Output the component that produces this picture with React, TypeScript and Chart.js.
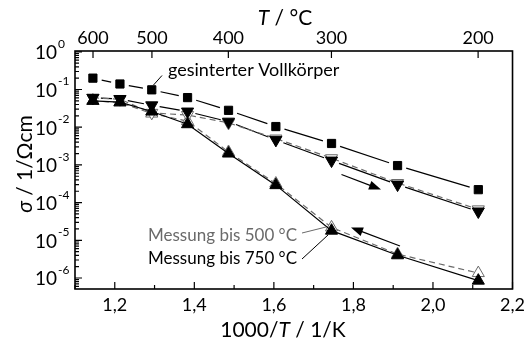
import { useEffect, useRef } from 'react';
import { Chart, registerables } from 'chart.js';

Chart.register(...registerables);

// ---- data ----
const tempsC = [600, 550, 500, 450, 400, 350, 300, 250, 200];
const invT = [1.145, 1.213, 1.293, 1.383, 1.486, 1.605, 1.745, 1.911, 2.114];
const sinterBody = [0.2, 0.14, 0.098, 0.061, 0.028, 0.0104, 0.0037, 9.6e-4, 2.2e-4];
const to750Down = [0.06, 0.056, 0.038, 0.026, 0.014, 0.0046, 0.0013, 3.0e-4, 5.8e-5];
const to500Down = [0.06, 0.055, 0.024, 0.021, 0.013, 0.005, 0.0015, 3.3e-4, 6.6e-5];
const to750Up = [0.05, 0.046, 0.026, 0.012, 0.002, 2.9e-4, 1.8e-5, 4.0e-6, 8.5e-7];
const to500Up = [0.05, 0.045, 0.023, 0.0145, 0.0022, 3.2e-4, 2.2e-5, 4.3e-6, 1.35e-6];

const xTicks = [1.2, 1.4, 1.6, 1.8, 2.0, 2.2];
const xMinorTicks = [1.1, 1.3, 1.5, 1.7, 1.9, 2.1];
const topTicksC = [600, 500, 400, 300, 200];
const yExponents = [0, -1, -2, -3, -4, -5, -6];

const FONT = 'Lato, "Open Sans", sans-serif';
const GREY = '#6a6a6a';

const pts = (ys: number[]) => ys.map((y, i) => ({ x: invT[i], y }));

function drawRich(ctx: CanvasRenderingContext2D, parts: [string, boolean][], size: number, x: number, y: number) {
  let total = 0;
  const widths = parts.map(([t, it]) => {
    ctx.font = `${it ? 'italic ' : ''}${size}px ${FONT}`;
    const w = ctx.measureText(t).width;
    total += w;
    return w;
  });
  let cx = x - total / 2;
  ctx.textAlign = 'left';
  parts.forEach(([t, it], i) => {
    ctx.font = `${it ? 'italic ' : ''}${size}px ${FONT}`;
    ctx.fillText(t, cx, y);
    cx += widths[i];
  });
}

function drawArrow(ctx: CanvasRenderingContext2D, x1: number, y1: number, x2: number, y2: number) {
  const a = Math.atan2(y2 - y1, x2 - x1);
  const L = 12, W = 4.5;
  ctx.beginPath();
  ctx.moveTo(x1, y1);
  ctx.lineTo(x2 - Math.cos(a) * L * 0.8, y2 - Math.sin(a) * L * 0.8);
  ctx.stroke();
  ctx.beginPath();
  ctx.moveTo(x2, y2);
  ctx.lineTo(x2 - L * Math.cos(a) + W * Math.sin(a), y2 - L * Math.sin(a) - W * Math.cos(a));
  ctx.lineTo(x2 - L * Math.cos(a) - W * Math.sin(a), y2 - L * Math.sin(a) + W * Math.cos(a));
  ctx.closePath();
  ctx.fill();
}

const gapLinesPlugin = {
  id: 'gapLines',
  beforeDatasetsDraw(chart: any) {
    const ctx = chart.ctx as CanvasRenderingContext2D;
    chart.data.datasets.forEach((ds: any, i: number) => {
      if (!ds.gapPx) return;
      const meta = chart.getDatasetMeta(i);
      const p = meta.data;
      ctx.save();
      ctx.strokeStyle = ds.gapColor || '#000';
      ctx.lineWidth = 1.2;
      for (let k = 0; k < p.length - 1; k++) {
        const x1 = p[k].x, y1 = p[k].y, x2 = p[k + 1].x, y2 = p[k + 1].y;
        const d = Math.hypot(x2 - x1, y2 - y1);
        const g = ds.gapPx;
        if (d <= 2 * g) continue;
        const ux = (x2 - x1) / d, uy = (y2 - y1) / d;
        ctx.beginPath();
        ctx.moveTo(x1 + ux * g, y1 + uy * g);
        ctx.lineTo(x2 - ux * g, y2 - uy * g);
        ctx.stroke();
      }
      ctx.restore();
    });
  },
};

const decorPlugin = {
  id: 'decor',
  afterDraw(chart: any) {
    const ctx = chart.ctx as CanvasRenderingContext2D;
    const { left, right, top, bottom } = chart.chartArea;
    const xs = chart.scales.x;
    const ys = chart.scales.y;
    ctx.save();
    // frame
    ctx.strokeStyle = '#000';
    ctx.lineWidth = 1.6;
    ctx.strokeRect(left, top, right - left, bottom - top);
    // ticks
    ctx.lineWidth = 1.2;
    ctx.beginPath();
    xTicks.forEach((v) => {
      const px = xs.getPixelForValue(v);
      ctx.moveTo(px, bottom);
      ctx.lineTo(px, bottom - 7);
    });
    xMinorTicks.forEach((v) => {
      const px = xs.getPixelForValue(v);
      ctx.moveTo(px, bottom);
      ctx.lineTo(px, bottom - 4);
    });
    topTicksC.forEach((t) => {
      const px = xs.getPixelForValue(1000 / (t + 273.15));
      ctx.moveTo(px, top);
      ctx.lineTo(px, top + 7);
    });
    for (let e = -7; e <= 0; e++) {
      for (let m = 1; m <= 9; m++) {
        const v = m * Math.pow(10, e);
        if (v < ys.min || v > ys.max) continue;
        const py = ys.getPixelForValue(v);
        ctx.moveTo(left, py);
        ctx.lineTo(left + (m === 1 ? 7 : 4), py);
      }
    }
    ctx.stroke();

    // y tick labels 10^n
    ctx.fillStyle = '#000';
    yExponents.forEach((e) => {
      const py = ys.getPixelForValue(Math.pow(10, e));
      ctx.font = `19px ${FONT}`;
      ctx.textAlign = 'right';
      ctx.textBaseline = 'alphabetic';
      ctx.fillText('10', left - 18, py + 7.5);
      ctx.font = `12px ${FONT}`;
      ctx.textAlign = 'left';
      ctx.fillText(String(e), left - 17, py - 4);
    });

    // axis titles
    ctx.textBaseline = 'alphabetic';
    ctx.fillStyle = '#000';
    drawRich(ctx, [['1000/', false], ['T', true], [' / 1/K', false]], 21, 283, 337);
    drawRich(ctx, [['T', true], [' / °C', false]], 21, 285, 25);
    ctx.save();
    ctx.translate(32, 164);
    ctx.rotate(-Math.PI / 2);
    drawRich(ctx, [['σ', true], [' / 1/Ωcm', false]], 21, 0, 0);
    ctx.restore();

    // annotations
    ctx.font = `18px ${FONT}`;
    ctx.textAlign = 'left';
    ctx.fillStyle = '#000';
    ctx.fillText('gesinterter Vollkörper', 168, 76);
    ctx.font = `17px ${FONT}`;
    ctx.fillStyle = GREY;
    ctx.fillText('Messung bis 500 °C', 148, 240.5);
    ctx.fillStyle = '#000';
    ctx.fillText('Messung bis 750 °C', 148, 263.5);

    ctx.lineWidth = 1;
    ctx.strokeStyle = '#000';
    ctx.beginPath();
    ctx.moveTo(153.5, 85);
    ctx.lineTo(162, 75.5);
    ctx.stroke();
    ctx.strokeStyle = GREY;
    ctx.beginPath();
    ctx.moveTo(302, 233);
    ctx.lineTo(326, 227);
    ctx.stroke();
    ctx.strokeStyle = '#000';
    ctx.beginPath();
    ctx.moveTo(302, 259);
    ctx.lineTo(328, 235);
    ctx.stroke();

    ctx.fillStyle = '#000';
    ctx.lineWidth = 1.2;
    drawArrow(ctx, 341.5, 174.5, 381, 189.5);
    drawArrow(ctx, 400, 246, 351, 227.5);
    ctx.restore();
  },
};

export default function App() {
  const ref = useRef<HTMLCanvasElement>(null);
  useEffect(() => {
    const canvas = ref.current!;
    const filled = (data: number[], rot: number, gap?: number) => ({
      data: pts(data),
      xAxisID: 'x',
      yAxisID: 'y',
      showLine: !gap,
      gapPx: gap,
      borderColor: '#000',
      borderWidth: 1.2,
      pointStyle: 'triangle',
      rotation: rot,
      pointRadius: 7,
      pointBackgroundColor: '#000',
      pointBorderColor: '#000',
      pointBorderWidth: 1,
      order: 0,
    });
    const open = (data: number[], rot: number) => ({
      data: pts(data),
      xAxisID: 'x',
      yAxisID: 'y',
      showLine: true,
      borderColor: GREY,
      borderWidth: 1.2,
      borderDash: [6, 4],
      pointStyle: 'triangle',
      rotation: rot,
      pointRadius: 7,
      pointBackgroundColor: '#fff',
      pointBorderColor: GREY,
      pointBorderWidth: 1,
      order: 1,
    });
    const chart = new Chart(canvas, {
      type: 'line',
      data: {
        labels: tempsC.map(String),
        datasets: [
          {
            label: 'gesinterter Vollkörper',
            data: pts(sinterBody),
            xAxisID: 'x',
            yAxisID: 'y',
            showLine: false,
            gapPx: 9,
            borderColor: '#000',
            pointStyle: 'rect',
            pointRadius: 5.8,
            pointBackgroundColor: '#000',
            pointBorderColor: '#000',
            pointBorderWidth: 1,
            order: 0,
          } as any,
          { label: 'Messung bis 750 °C (Abkühlen)', ...filled(to750Down, 180, 8) } as any,
          { label: 'Messung bis 750 °C (Aufheizen)', ...filled(to750Up, 0) } as any,
          { label: 'Messung bis 500 °C (Abkühlen)', ...open(to500Down, 180) } as any,
          { label: 'Messung bis 500 °C (Aufheizen)', ...open(to500Up, 0) } as any,
        ],
      },
      options: {
        animation: false,
        responsive: false,
        devicePixelRatio: 1,
        layout: { padding: { left: 0, right: 16, top: 0, bottom: 0 } },
        plugins: { legend: { display: false }, tooltip: { enabled: false } },
        scales: {
          x: {
            type: 'linear',
            position: 'bottom',
            min: 1.1,
            max: 2.2,
            afterBuildTicks: (s: any) => {
              s.ticks = xTicks.map((v) => ({ value: v }));
            },
            afterFit: (s: any) => {
              s.height = 52;
            },
            grid: { display: false, drawTicks: false },
            border: { display: false },
            ticks: {
              font: { family: FONT, size: 18 },
              color: '#000',
              padding: 5,
              maxRotation: 0,
              autoSkip: false,
              callback: (v: any) => Number(v).toFixed(1).replace('.', ','),
            },
          },
          xTop: {
            type: 'linear',
            position: 'top',
            min: 1.1,
            max: 2.2,
            afterBuildTicks: (s: any) => {
              s.ticks = topTicksC.map((t) => ({ value: 1000 / (t + 273.15) }));
            },
            afterFit: (s: any) => {
              s.height = 51;
            },
            grid: { display: false, drawTicks: false },
            border: { display: false },
            ticks: {
              font: { family: FONT, size: 18 },
              color: '#000',
              padding: 2,
              maxRotation: 0,
              autoSkip: false,
              callback: (_v: any, i: number) => String(topTicksC[i]),
            },
          },
          y: {
            type: 'logarithmic',
            min: 5.1e-7,
            max: 1.05,
            afterFit: (s: any) => {
              s.width = 75;
            },
            grid: { display: false, drawTicks: false },
            border: { display: false },
            ticks: { display: false },
          },
        },
      } as any,
      plugins: [gapLinesPlugin, decorPlugin],
    });
    return () => chart.destroy();
  }, []);
  return (
    <div style={{ position: 'absolute', left: 0, top: 0, width: 530, height: 341, background: '#fff' }}>
      <canvas ref={ref} width={530} height={341} style={{ width: 530, height: 341, display: 'block' }} />
    </div>
  );
}
